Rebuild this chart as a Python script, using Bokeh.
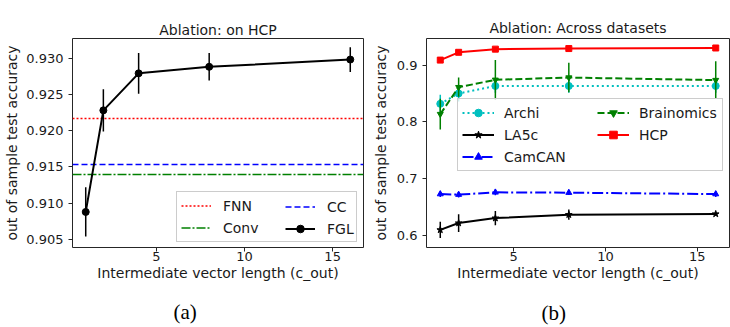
from bokeh.plotting import figure
from bokeh.models import (ColumnDataSource, FixedTicker, PrintfTickFormatter, Legend, LegendItem,
                          Range1d, Title)
from bokeh.layouts import row
from bokeh.embed import file_html
from bokeh.resources import INLINE

# ---------------- data ----------------
c_out = [1, 2, 4, 8, 16]

# panel (a): ablation on HCP
fgl = [0.9088, 0.9228, 0.9279, 0.9288, 0.9298]
fgl_err = [0.0034, 0.0029, 0.0028, 0.0019, 0.0017]
fnn = 0.9217
cc = 0.9154
conv = 0.9140

# panel (b): across datasets
archi = [0.8318, 0.8500, 0.8632, 0.8632, 0.8632]
archi_err = [0.016, 0.014, 0.012, 0.012, 0.012]
brainomics = [0.8137, 0.8610, 0.8740, 0.8780, 0.8735]
brainomics_err = [0.027, 0.017, 0.035, 0.026, 0.033]
la5c = [0.6100, 0.6220, 0.6307, 0.6367, 0.6380]
la5c_err = [0.0145, 0.0157, 0.0125, 0.0090, 0.0030]
camcan = [0.6730, 0.6720, 0.6760, 0.6755, 0.6730]
camcan_err = [0.005, 0.005, 0.005, 0.004, 0.005]
hcp = [0.9087, 0.9224, 0.9280, 0.9290, 0.9300]
hcp_err = [0.003, 0.003, 0.002, 0.002, 0.002]

x_ticks = [5, 10, 15]
a_ticks = [0.905, 0.910, 0.915, 0.920, 0.925, 0.930]
b_ticks = [0.6, 0.7, 0.8, 0.9]

FONT = "DejaVu Sans"
INK = "#1a1a1a"


def style(p, yticks, yfmt, y_label_standoff, title_standoff):
    p.xaxis.ticker = FixedTicker(ticks=x_ticks)
    p.yaxis.ticker = FixedTicker(ticks=yticks)
    p.yaxis.formatter = PrintfTickFormatter(format=yfmt)
    p.xgrid.visible = False
    p.ygrid.visible = False
    p.outline_line_color = "#262626"
    p.outline_line_width = 1
    p.outline_line_alpha = 1.0
    for ax in (p.xaxis, p.yaxis):
        ax.axis_line_color = None
        ax.major_tick_in = 0
        ax.major_tick_out = 4
        ax.major_tick_line_color = "#262626"
        ax.minor_tick_line_color = None
        ax.major_label_text_font = FONT
        ax.major_label_text_font_size = "13px"
        ax.major_label_text_color = INK
        ax.axis_label_text_font = FONT
        ax.axis_label_text_font_size = "14px"
        ax.axis_label_text_font_style = "normal"
        ax.axis_label_text_color = INK
    p.xaxis.major_label_standoff = 0
    p.yaxis.major_label_standoff = 5
    p.xaxis.axis_label_standoff = 1
    p.yaxis.axis_label_standoff = y_label_standoff
    p.title.text_font = FONT
    p.title.text_font_size = "14px"
    p.title.text_font_style = "normal"
    p.title.align = "center"
    p.title.text_color = INK
    p.title.standoff = title_standoff


def series(p, y, err, color, dash, marker, msize):
    src = ColumnDataSource(dict(x=c_out, y=y,
                                lo=[v - e for v, e in zip(y, err)],
                                hi=[v + e for v, e in zip(y, err)]))
    p.segment(x0="x", y0="lo", x1="x", y1="hi", source=src, line_color=color, line_width=1.5)
    ln = p.line("x", "y", source=src, line_color=color, line_width=2, line_dash=dash)
    mk = p.scatter("x", "y", source=src, marker=marker, size=msize, fill_color=color, line_color=color)
    return [ln, mk]


def make_legend(items, loc, label_width, glyph_width, standoff, framed):
    leg = Legend(items=items, location=loc, margin=0)
    leg.label_text_font = FONT
    leg.label_text_font_size = "14px"
    leg.label_text_color = INK
    leg.glyph_width = glyph_width
    leg.glyph_height = 19
    leg.label_height = 17
    leg.label_width = label_width
    leg.spacing = 3
    leg.padding = 4
    leg.label_standoff = standoff
    leg.border_line_color = "#cccccc"
    leg.border_line_width = 1
    leg.background_fill_color = "white"
    leg.border_line_alpha = 1.0 if framed else 0.0
    leg.background_fill_alpha = 0.8 if framed else 0.0
    return leg


def panel_tag(p, text, offset, pad_top):
    t = Title(text=text, align="left", offset=offset, standoff=0, vertical_align="top",
              text_font="Liberation Serif", text_font_size="21px",
              text_font_style="normal", text_color="#000000")
    done = False
    if "padding" in Title.properties():
        try:
            t.padding = dict(left=0, right=0, top=pad_top, bottom=0)
            done = True
        except Exception:
            done = False
    if not done:
        t.standoff = 2 * pad_top
    p.add_layout(t, "below")


# ---------------- panel (a) ----------------
p1 = figure(width=365, height=327, output_backend="svg", toolbar_location=None,
            title="Ablation: on HCP",
            x_range=Range1d(0.25, 16.75), y_range=Range1d(0.9039, 0.9327),
            x_axis_label="Intermediate vector length (c_out)",
            y_axis_label="out of sample test accuracy",
            min_border_left=72, min_border_right=2, min_border_top=38, min_border_bottom=77)
style(p1, a_ticks, "%.3f", 3, 2)

r_fnn = p1.hspan(y=[fnn], line_color="#ff0000", line_width=1.5, line_dash="2 2")
r_cc = p1.hspan(y=[cc], line_color="#0000ff", line_width=1.5, line_dash="6 3")
r_conv = p1.hspan(y=[conv], line_color="#008000", line_width=1.5, line_dash="9 2 2 2")
r_fgl = series(p1, fgl, fgl_err, "#000000", "solid", "circle", 7)

leg1a = make_legend([LegendItem(label="FNN", renderers=[r_fnn]),
                     LegendItem(label="Conv", renderers=[r_conv])],
                    (104, 5), 129, 30, 12, True)
leg1b = make_legend([LegendItem(label="CC", renderers=[r_cc]),
                     LegendItem(label="FGL", renderers=r_fgl)],
                    (209, 5), 20, 30, 12, False)
p1.add_layout(leg1a)
p1.add_layout(leg1b)
panel_tag(p1, "(a)", 101, 16)

# ---------------- panel (b) ----------------
p2 = figure(width=365, height=327, output_backend="svg", toolbar_location=None,
            title="Ablation: Across datasets",
            x_range=Range1d(0.25, 16.75), y_range=Range1d(0.579, 0.9467),
            x_axis_label="Intermediate vector length (c_out)",
            y_axis_label="out of sample test accuracy",
            min_border_left=61, min_border_right=1, min_border_top=24, min_border_bottom=80)
style(p2, b_ticks, "%.1f", 5, 5)

r_archi = series(p2, archi, archi_err, "#00bfbf", "2 3", "circle", 7)
r_brain = series(p2, brainomics, brainomics_err, "#008000", "7 3", "inverted_triangle", 6)
r_la5c = series(p2, la5c, la5c_err, "#000000", "solid", "star", 7)
r_cam = series(p2, camcan, camcan_err, "#0000ff", "11 3 2 3", "triangle", 6)
r_hcp = series(p2, hcp, hcp_err, "#ff0000", "solid", "square", 6)

leg2a = make_legend([LegendItem(label="Archi", renderers=r_archi),
                     LegendItem(label="LA5c", renderers=r_la5c),
                     LegendItem(label="CamCAN", renderers=r_cam)],
                    (31, 76), 214, 32, 10, True)
leg2b = make_legend([LegendItem(label="Brainomics", renderers=r_brain),
                     LegendItem(label="HCP", renderers=r_hcp)],
                    (167, 76 + 23), 20, 32, 10, False)
p2.add_layout(leg2a)
p2.add_layout(leg2b)
panel_tag(p2, "(b)", 115, 17)

layout = row(p1, p2, spacing=0)
open("out.html", "w").write(file_html(layout, INLINE))
